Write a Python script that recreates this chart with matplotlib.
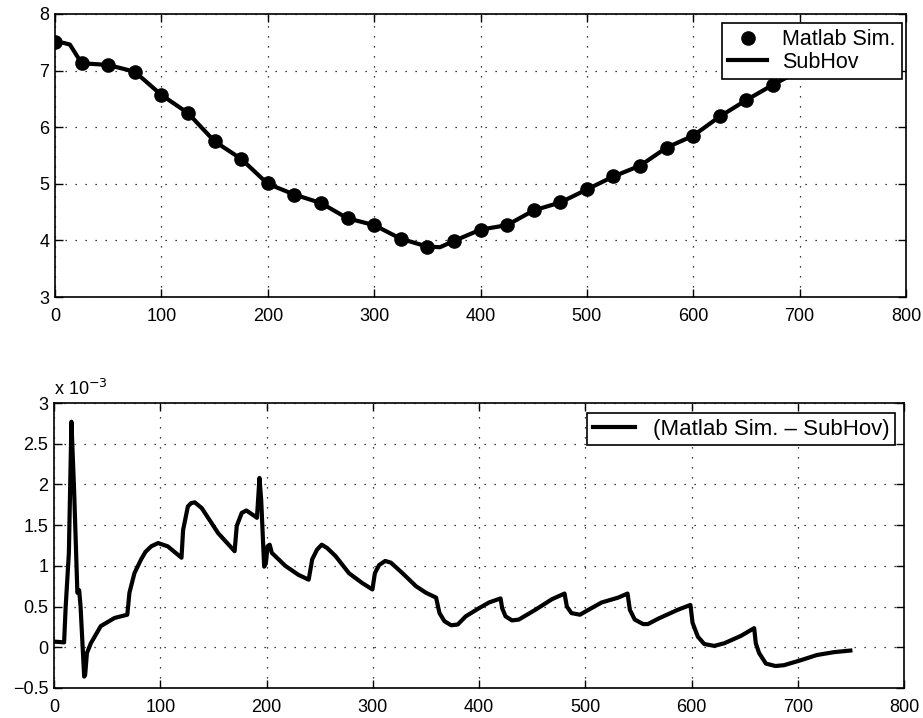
import numpy as np
import matplotlib
matplotlib.use("Agg")
import matplotlib.pyplot as plt

plt.rcParams['font.family'] = ['Liberation Sans', 'DejaVu Sans']

# --- Upper panel: simulation samples and SubHov trajectory ---
sim_x = [0, 25, 50, 75, 100, 125, 150, 175, 200, 225, 250, 275, 300, 325, 350,
         375, 400, 425, 450, 475, 500, 525, 550, 575, 600, 625, 650, 675,
         700, 725, 750]
sim_y = [7.50, 7.13, 7.10, 6.98, 6.57, 6.25, 5.75, 5.44, 5.02, 4.81, 4.66, 4.39,
         4.27, 4.03, 3.89, 3.99, 4.19, 4.27, 4.53, 4.67, 4.90, 5.13, 5.32, 5.64,
         5.85, 6.19, 6.48, 6.75, 7.00, 7.22, 7.45]

subhov_x = [0, 8, 14, 25, 50, 75, 100, 125, 150, 175, 200, 225, 250, 275, 300,
            325, 350, 362, 375, 400, 425, 450, 475, 500, 525, 550, 575, 600,
            625, 650, 675, 700, 725, 750]
subhov_y = [7.50, 7.49, 7.46, 7.13, 7.10, 6.98, 6.57, 6.25, 5.75, 5.44, 5.00,
            4.81, 4.66, 4.39, 4.27, 4.03, 3.89, 3.88, 3.99, 4.19, 4.27, 4.53,
            4.67, 4.90, 5.13, 5.32, 5.64, 5.85, 6.19, 6.48, 6.75, 7.00, 7.22, 7.45]

# --- Lower panel: difference (Matlab Sim. - SubHov), units of 1e-3 ---
diff_x = [0, 9.5, 11, 14, 16.4, 19, 22, 23.7, 25, 28.4, 29.3, 31, 34.7, 44, 57, 69,
          71, 75.7, 82, 86, 91.5, 98, 107, 120,
          121.5, 126, 129, 132.5, 139, 154.6, 170,
          172, 176.7, 181, 189, 191, 193.4, 195, 197.8, 199.4, 201, 203, 205,
          217.7, 230, 239.7,
          243, 247.6, 252, 257, 265, 277.6, 290, 299.7,
          302, 306, 311.7, 317, 328, 340.7, 350, 359.6,
          362.8, 367.5, 373.8, 380, 387.5, 400, 409.4, 420.3,
          421.8, 425, 431, 437.4, 453, 468.6, 480.5,
          482.7, 487, 495, 503, 515.4, 531, 539.8,
          542, 546.6, 554.5, 559, 568.5, 587, 599,
          601, 606, 612, 621.5, 631, 646.5, 659,
          660.5, 663.6, 670, 679, 687, 702.6, 718, 734, 749.5]
diff_y = [0.07, 0.06, 0.50, 1.16, 2.77, 1.90, 0.67, 0.70, 0.50, -0.36, -0.34, -0.07,
          0.05, 0.26, 0.36, 0.40,
          0.67, 0.91, 1.08, 1.17, 1.24, 1.28, 1.24, 1.10,
          1.44, 1.73, 1.77, 1.78, 1.71, 1.40, 1.18,
          1.49, 1.65, 1.68, 1.61, 1.59, 2.08, 1.81, 0.99, 1.03, 1.24, 1.26, 1.16,
          1.00, 0.89, 0.83,
          1.08, 1.20, 1.26, 1.22, 1.12, 0.91, 0.79, 0.71,
          0.91, 1.01, 1.06, 1.04, 0.91, 0.75, 0.67, 0.61,
          0.42, 0.32, 0.27, 0.28, 0.38, 0.48, 0.55, 0.60,
          0.48, 0.38, 0.33, 0.34, 0.46, 0.59, 0.66,
          0.50, 0.42, 0.40, 0.46, 0.55, 0.61, 0.66,
          0.46, 0.34, 0.285, 0.285, 0.35, 0.46, 0.52,
          0.30, 0.13, 0.04, 0.017, 0.05, 0.14, 0.235,
          0.05, -0.07, -0.20, -0.23, -0.22, -0.16, -0.095, -0.06, -0.04]

x_ticks = [0, 100, 200, 300, 400, 500, 600, 700, 800]
top_yticks = [3, 4, 5, 6, 7, 8]
bottom_yticks = [-0.5, 0, 0.5, 1, 1.5, 2, 2.5, 3]
bottom_yticklabels = ['\u22120.5', '0', '0.5', '1', '1.5', '2', '2.5', '3']

W, H = 923, 718
fig = plt.figure(figsize=(W / 100, H / 100), dpi=100)


def px_axes(left, top, right, bottom):
    return fig.add_axes([left / W, 1 - bottom / H, (right - left) / W, (bottom - top) / H])


def style(ax):
    ax.set_xlim(0, 800)
    ax.set_xticks(x_ticks)
    ax.tick_params(direction='in', length=6, width=1, top=True, right=True,
                   labelsize=13, colors='black')
    ax.tick_params(axis='x', pad=8)
    ax.tick_params(axis='y', pad=4)
    ax.grid(True, linestyle=(0, (1, 7)), color='black', linewidth=0.9)
    for s in ax.spines.values():
        s.set_linewidth(1.2)
        s.set_color('black')


ax1 = px_axes(55, 14, 906, 297)
style(ax1)
ax1.set_ylim(3, 8)
ax1.set_yticks(top_yticks)
ax1.plot(subhov_x, subhov_y, color='black', lw=3, label='SubHov', zorder=3)
ax1.plot(sim_x, sim_y, 'o', color='black', ms=9.5, label='Matlab Sim.', zorder=4)
h, l = ax1.get_legend_handles_labels()
leg1 = ax1.legend([h[1], h[0]], [l[1], l[0]], loc='upper right',
                  bbox_to_anchor=(1 - 4 / 851, 1 - 9 / 283), borderaxespad=0,
                  fontsize=15.5, frameon=True, fancybox=False, framealpha=1,
                  edgecolor='black', handlelength=1.8, handletextpad=0.7,
                  labelspacing=0.05, borderpad=0.3)
leg1.get_frame().set_linewidth(1.2)
leg1.set_zorder(10)

ax2 = px_axes(54, 403, 904, 688)
style(ax2)
ax2.set_ylim(-0.5, 3)
ax2.set_yticks(bottom_yticks)
ax2.set_yticklabels(bottom_yticklabels)
ax2.plot(diff_x, diff_y, color='black', lw=3, label='(Matlab Sim. \u2013 SubHov)')
leg2 = ax2.legend(loc='upper right', bbox_to_anchor=(1 - 9 / 850, 1 - 10 / 285),
                  borderaxespad=0, fontsize=16, frameon=True, fancybox=False,
                  framealpha=1, edgecolor='black', handlelength=1.9,
                  handletextpad=0.8, borderpad=0.25)
leg2.get_frame().set_linewidth(1.2)
ax2.text(0.0, 1 + 8 / 285, 'x 10$^{-3}$', transform=ax2.transAxes, fontsize=13,
         ha='left', va='baseline')

fig.savefig('out.png', dpi=100, facecolor='white')
